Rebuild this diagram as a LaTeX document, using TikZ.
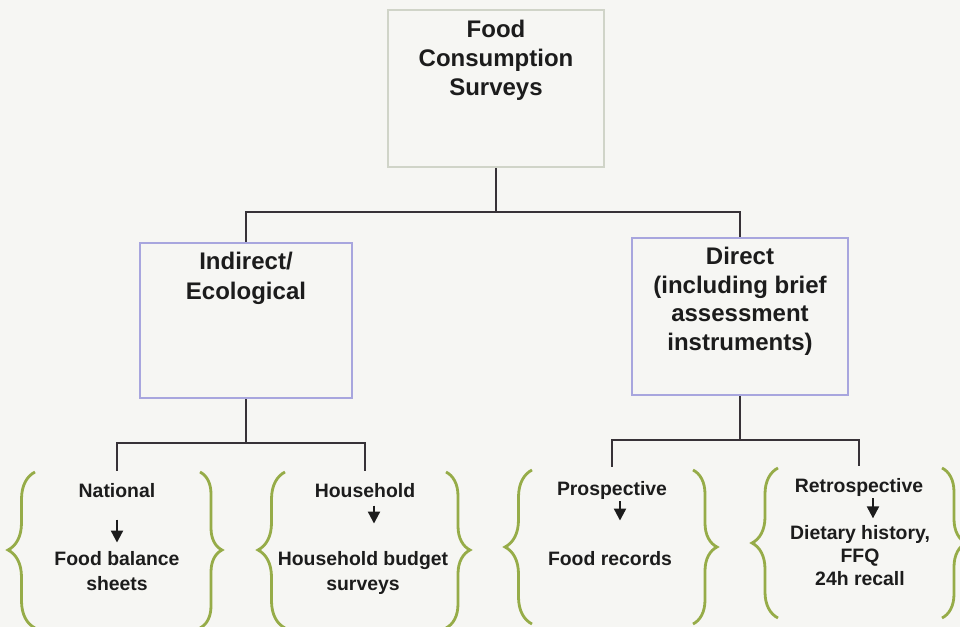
\documentclass[tikz,border=0pt]{standalone}
\usepackage{fontspec}
\setmainfont{Liberation Sans}
\usetikzlibrary{arrows.meta,decorations.pathreplacing}

\definecolor{paper}{RGB}{246,246,243}
\definecolor{topline}{RGB}{208,212,200}
\definecolor{midline}{RGB}{168,166,222}
\definecolor{bracegreen}{RGB}{150,172,72}
\definecolor{ink}{RGB}{28,28,28}
\definecolor{wire}{RGB}{55,50,55}

\tikzset{
  box/.style={draw, line width=1.2pt, inner sep=0pt},
  big/.style={text=ink, align=center, anchor=base, inner sep=1pt, font=\bfseries\fontsize{12}{14.5}\selectfont},
  small/.style={text=ink, align=center, anchor=base, inner sep=1pt, font=\bfseries\fontsize{9.7}{12.5}\selectfont},
  wire/.style={draw=wire, line width=0.8pt},
  arr/.style={ink, line width=1.1pt, -{Triangle[width=6pt,length=6pt]}},
  curly/.style={draw=bracegreen, line width=1.4pt, decorate, decoration={brace, amplitude=#1}}
}

\begin{document}
\begin{tikzpicture}[x=0.5pt, y=-0.5pt]
    \fill[paper] (0,0) rectangle (960,627);
    \useasboundingbox (0,0) rectangle (960,627);

    % boxes
    \node[box, draw=topline, minimum width=108pt, minimum height=78.5pt] (T) at (496,88.5) {};
    \node[box, draw=midline, minimum width=106pt, minimum height=77.5pt] (L) at (246,320.5) {};
    \node[box, draw=midline, minimum width=108pt, minimum height=78.5pt] (R) at (740,316.5) {};

    % texts sit on the baseline of their last line
    \node[big] (Tt) at (496,95) {Food\\Consumption\\Surveys};
    \node[big, font=\bfseries\fontsize{12}{15}\selectfont] (Lt) at (246,299) {Indirect/\\Ecological};
    \node[big, font=\bfseries\fontsize{12}{14.2}\selectfont] (Rt) at (740,350) {Direct\\(including brief\\assessment\\instruments)};

    % tree lines
    \draw[wire] (T.south) -- (T.south |- 0,212) coordinate (j1);
    \draw[wire] (L.north) |- (j1) -| (R.north);

    % bottom labels
    \node[small] (N) at (117,497) {National};
    \node[small] (H) at (365,497) {Household};
    \node[small] (P) at (612,495) {Prospective};
    \node[small] (S) at (859,492) {Retrospective};

    \node[small] (Nf) at (117,590) {Food balance\\sheets};
    \node[small] (Hf) at (363,590) {Household budget\\surveys};
    \node[small] (Pf) at (610,565) {Food records};
    \node[small, font=\bfseries\fontsize{9.7}{11.3}\selectfont] (Sf) at (860,585) {Dietary history,\\FFQ\\24h recall};

    \draw[wire] (L.south) -- (L.south |- 0,443) coordinate (j2);
    \draw[wire, shorten <=5pt, shorten >=5pt] (N.north) |- (j2) -| (H.north);
    \draw[wire] (R.south) -- (R.south |- 0,440) coordinate (j3);
    \draw[wire, shorten <=6pt, shorten >=5pt] (P.north) |- (j3) -| (S.north);

    \draw[arr, shorten <=10pt, shorten >=3pt] (N.south) -- (N.south |- Nf.north);
    \draw[arr, shorten <=3pt, shorten >=12.5pt] ([xshift=4.5pt]H.south) -- ([xshift=4.5pt]H.south |- Hf.north);
    \draw[arr, shorten >=14pt] ([xshift=4pt]P.south) -- ([xshift=4pt]P.south |- Pf.north);
    \draw[arr, shorten >=2.5pt] ([xshift=7pt]S.south) -- ([xshift=7pt]S.south |- Sf.north);

    % braces
    \draw[curly=13.5pt] (35,628) -- (35,472);
    \draw[curly=11pt] (200,472) -- (200,628);
    \draw[curly=13.5pt] (285,628) -- (285,472);
    \draw[curly=12pt] (446,472) -- (446,628);
    \draw[curly=13.5pt] (532,624) -- (532,470);
    \draw[curly=12pt] (693,470) -- (693,624);
    \draw[curly=13pt] (778,618) -- (778,468);
    \draw[curly=12pt] (942,468) -- (942,618);
\end{tikzpicture}
\end{document}
